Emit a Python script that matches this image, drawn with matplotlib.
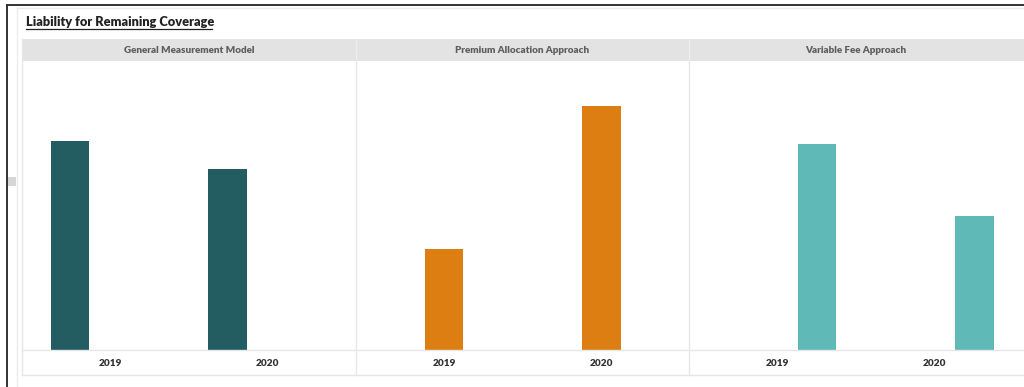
import matplotlib
matplotlib.use("Agg")
import matplotlib.pyplot as plt
from matplotlib.patches import Rectangle
from matplotlib.lines import Line2D

plt.rcParams['font.family'] = ['Lato', 'DejaVu Sans']

title = "Liability for Remaining Coverage"
models = ["General Measurement Model", "Premium Allocation Approach", "Variable Fee Approach"]
years = ["2019", "2020"]
gmm = [2.09, 1.81]
paa = [1.01, 2.44]
vfa = [2.06, 1.34]
colors = ["#235c61", "#dd7e12", "#5fb9b6"]

W, H = 1024, 387
fig = plt.figure(figsize=(W / 100, H / 100), dpi=100)

def fx(x):
    return x / W

def fy(y):
    return 1 - y / H

def hline(x0, x1, y, color, lw=1.0):
    fig.add_artist(Line2D([fx(x0), fx(x1)], [fy(y), fy(y)], color=color, lw=lw))

def vline(x, y0, y1, color, lw=1.0):
    fig.add_artist(Line2D([fx(x), fx(x)], [fy(y0), fy(y1)], color=color, lw=lw))

# outer frame and card
hline(7, W, 5, "#333333", 1.4)
vline(7, 5, H, "#333333", 1.4)
vline(16.5, 8, H, "#ececec", 1.0)
hline(16.5, W, 7.5, "#ececec", 1.0)
fig.add_artist(Rectangle((fx(8), fy(186)), fx(8), 9 / H, color="#d6d6d6", lw=0))

# title with underline
fig.text(fx(26), fy(26.5), title, fontsize=9.2, fontweight="heavy", color="#222222",
         ha="left", va="baseline")
hline(26, 212, 28.5, "#222222", 0.9)

# header band
fig.add_artist(Rectangle((fx(22), fy(61)), fx(W - 22), 22 / H, color="#e3e3e3", lw=0))

edges = [22, 356, 689, 1023]
unit = 157.5
data = [gmm, paa, vfa]
for i, (name, vals) in enumerate(zip(models, data)):
    x0, x1 = edges[i], edges[i + 1]
    w = x1 - x0
    fig.text(fx((x0 + x1) / 2), fy(50.5), name, fontsize=7.1, fontweight="heavy",
             color="#5e5e5e", ha="center", va="center")
    ax = fig.add_axes([fx(x0), fy(350), fx(w), (350 - 61) / H])
    off = (i - 1) * 0.254
    ax.bar([k + off for k in range(len(years))], vals, width=0.245, color=colors[i],
           edgecolor="none")
    ax.set_xlim(-88 / unit, (w - 88) / unit)
    ax.set_ylim(0, 2.89)
    ax.axis("off")
    for k, yr in enumerate(years):
        fig.text(fx(x0 + 88 + k * unit), fy(363.5), yr, fontsize=7.2, fontweight="heavy",
                 color="#333333", ha="center", va="center")

# grid lines of the panel table
hline(22, W, 350, "#e6e6e6")
hline(22, W, 374.5, "#e6e6e6")
vline(21.7, 39, 374.5, "#e6e6e6")
for x in edges[1:3]:
    vline(x, 61, 374.5, "#e6e6e6")
    vline(x, 39, 61, "#ededed")

fig.savefig("out.png", dpi=100)
